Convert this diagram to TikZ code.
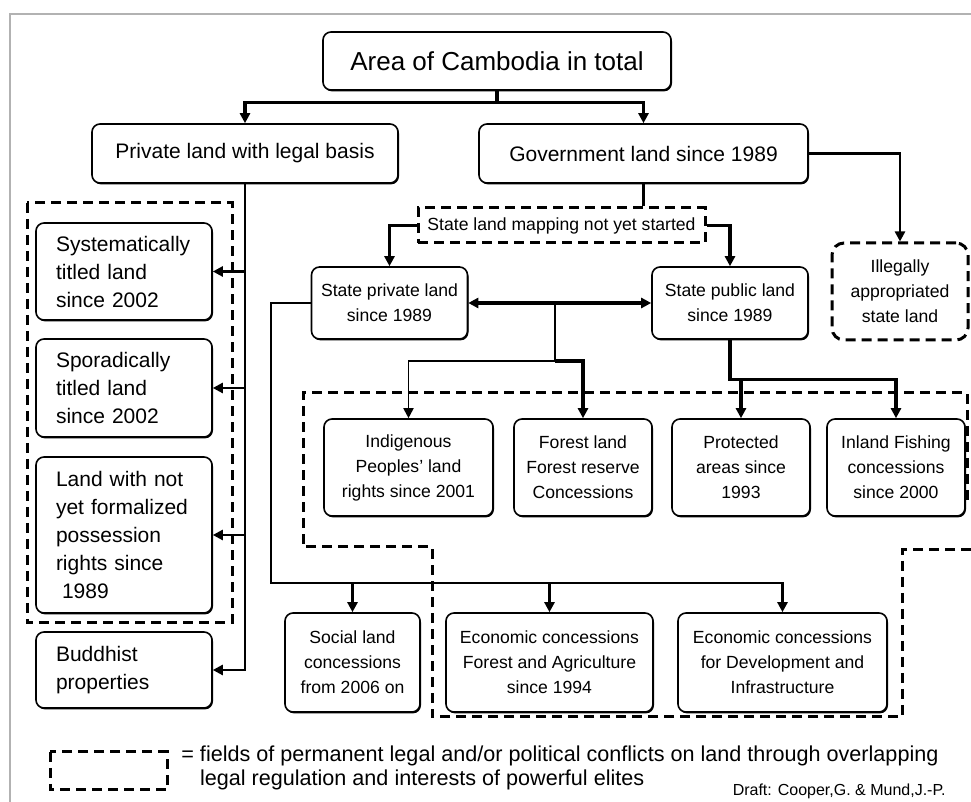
\documentclass[tikz,border=0pt]{standalone}
\usepackage{fontspec}
\setmainfont{Liberation Sans}
\usetikzlibrary{positioning,calc,arrows.meta,shadows}

\begin{document}
\begin{tikzpicture}[x=0.5pt,y=-0.5pt,
	box/.style={draw=black,fill=white,line width=0.8pt,rounded corners=4pt,inner sep=1pt,align=center,drop shadow={shadow xshift=0.5pt,shadow yshift=-0.7pt,fill=black,opacity=1}},
	leftbox/.style={box,minimum width=88pt,text width=68pt,align=left,font=\fontsize{10.5}{14}\selectfont},
	midbox/.style={box,minimum width=69pt,minimum height=48.5pt,font=\fontsize{8.8}{12.5}\selectfont},
	conflict/.style={draw=black,line width=1.5pt,dash pattern=on 5pt off 3pt},
	conn/.style={draw=black,line width=1.2pt},
	heavy/.style={draw=black,line width=1.7pt},
	tip/.style={-{Triangle[length=5pt,width=5pt]}},
]
		\useasboundingbox (0,0) rectangle (971,802);
		\draw[gray!60,line width=1pt] (10,802) -- (10,14) -- (971,14);

		\node[box,minimum width=174pt,minimum height=29pt,font=\fontsize{13}{15}\selectfont] (area) at (497,61) {Area of Cambodia in total};
		\node[box,minimum width=153pt,minimum height=29.5pt,font=\fontsize{10.5}{13}\selectfont] (priv) at (245,153.5) {Private land with legal basis};
		\node[box,minimum width=164.5pt,minimum height=29.5pt,font=\fontsize{10.5}{13}\selectfont] (gov) at (643.5,153.5) {Government land since 1989};
		\node[conflict,minimum width=143.5pt,minimum height=17.5pt,inner sep=0pt,font=\fontsize{8.8}{10}\selectfont] (strip) at (561.5,225.5) {State land mapping not yet started};
		\node[box,minimum width=78pt,minimum height=36pt,font=\fontsize{8.8}{12.5}\selectfont] (spriv) at (389.5,303) {State private land\\since 1989};
		\node[box,minimum width=78pt,minimum height=36pt,font=\fontsize{8.8}{12.5}\selectfont] (spub) at (730,303) {State public land\\since 1989};
		\node[conflict,rounded corners=6pt,minimum width=68pt,minimum height=48.5pt,align=center,inner sep=1pt,font=\fontsize{8.8}{12.5}\selectfont] (illeg) at (900,291.5) {Illegally\\appropriated\\state land};

		\node[leftbox,minimum height=48.5pt] (syst) at (124,271.5) {Systematically\\titled land\\since 2002};
		\node[leftbox,minimum height=49pt] (spor) at (124,388) {Sporadically\\titled land\\since 2002};
		\node[leftbox,minimum height=78pt] (notyet) at (124,535) {Land with not\\yet formalized\\possession\\rights since\\\hspace*{3pt}1989};
		\node[leftbox,minimum height=38pt] (budd) at (124,670) {Buddhist\\properties};

		\node[midbox,minimum width=84.5pt] (indig) at (408.5,467.5) {Indigenous\\Peoples' land\\rights since 2001};
		\node[midbox] (forest) at (583,467.5) {Forest land\\Forest reserve\\Concessions};
		\node[midbox] (prot) at (741,467.5) {Protected\\areas since\\1993};
		\node[midbox] (inland) at (896,467.5) {Inland Fishing\\concessions\\since 2000};

		\node[midbox,minimum width=67.5pt,minimum height=49.5pt] (social) at (352.5,662.5) {Social land\\concessions\\from 2006 on};
		\node[midbox,minimum width=103.5pt,minimum height=49.5pt] (econfa) at (549.5,662.5) {Economic concessions\\Forest and Agriculture\\since 1994};
		\node[midbox,minimum width=104.5pt,minimum height=49.5pt] (econdi) at (782.5,662.5) {Economic concessions\\for Development and\\Infrastructure};

		\coordinate (asplit) at ($(area.south)+(0,12)$);
		\draw[heavy] (area.south) -- (asplit);
		\draw[heavy,tip] (asplit) -| (priv.north);
		\draw[heavy,tip] (asplit) -| (gov.north);
		\draw[conn,tip] (gov.east) -| (illeg.north);
		\draw[heavy] (gov.south) -- (gov.south |- strip.north);
		\draw[heavy,tip] (strip.west) -| (spriv.north);
		\draw[heavy,tip] (strip.east) -| (spub.north);
		\draw[heavy,line width=2pt,{Triangle[length=5pt,width=5pt]}-{Triangle[length=5pt,width=5pt]}] (spriv.east) -- (spub.west);

		\coordinate (mid) at (555,303);
		\coordinate (midsplit) at (555,361);
		\draw[conn,line width=0.9pt] (mid) -- (midsplit);
		\draw[conn,line width=0.9pt,tip] (midsplit) -| (indig.north);
		\draw[heavy,tip] (midsplit) -| (forest.north);

		\coordinate (pubsplit) at ($(spub.south)+(0,40)$);
		\draw[heavy,tip] (spub.south) |- (pubsplit -| inland.north) -- (inland.north);
		\draw[heavy,tip] (pubsplit -| prot.north) -- (prot.north);

		\draw[conn,tip] (priv.south) |- (budd.east);
		\foreach \n in {syst,spor,notyet}
			\draw[conn,tip] (priv.south |- \n.east) -- (\n.east);

		\coordinate (lowbend) at (271,303);
		\coordinate (lowsplit) at (271,583);
		\draw[conn,tip] (spriv.west) -- (lowbend) -- (lowsplit) -| (econdi.north);
		\foreach \n in {social,econfa}
			\draw[conn,tip] (lowsplit -| \n.north) -- (\n.north);

		\draw[conflict] (27,203) rectangle (232,623);
		\draw[conflict] (971,550) -- (902,550) -- (902,717) -- (432,717) -- (432,547) -- (303,547) -- (303,393) -- (967,393) -- (967,500);

		\draw[conflict] (50,752) rectangle (167,790);
		\node[anchor=west,inner sep=0pt,align=left,font=\fontsize{10.8}{12}\selectfont] (legend) at (181,768) {= fields of permanent legal and/or political conflicts on land through overlapping\\\phantom{=\ }legal regulation and interests of powerful elites};
		\node[anchor=east,inner sep=0pt,font=\fontsize{8}{9}\selectfont] (draft) at (946,791) {Draft: Cooper,G. \& Mund,J.-P.};
	\end{tikzpicture}
\end{document}
